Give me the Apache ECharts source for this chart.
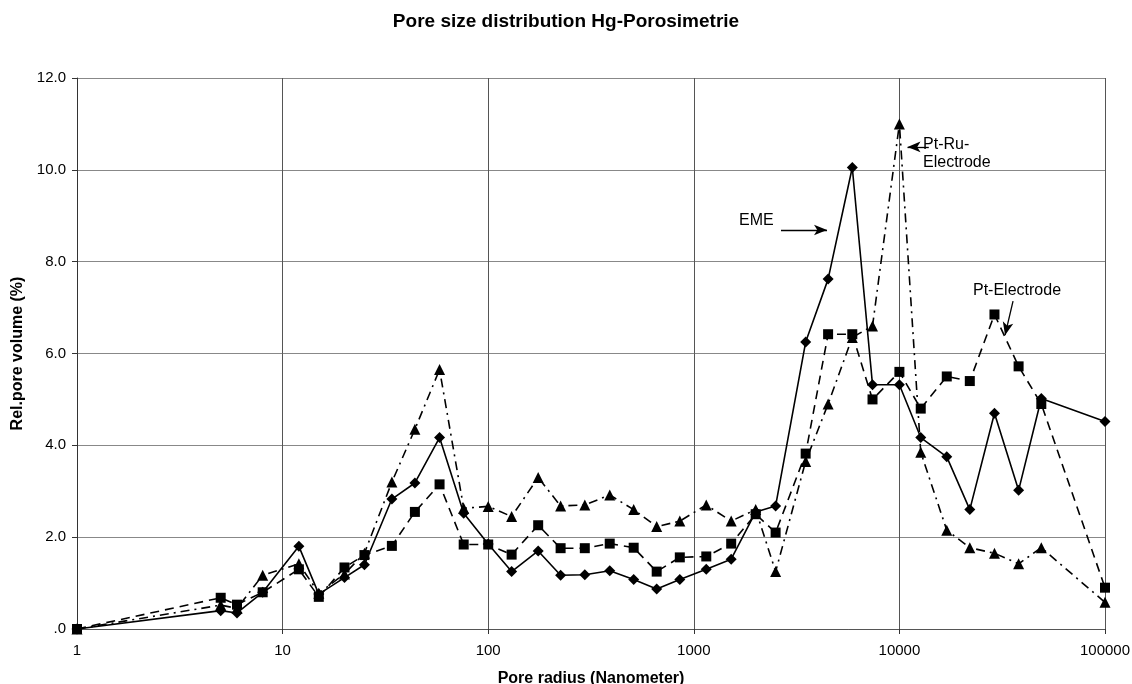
<!DOCTYPE html>
<html><head><meta charset="utf-8">
<script src="https://cdn.jsdelivr.net/npm/echarts@6/dist/echarts.min.js"></script>
<style>html,body{margin:0;padding:0;background:#fff}#c{width:1132px;height:684px}</style>
</head><body><div id="c"></div>
<script>
const radius = [1,5,6,8,12,15,20,25,34,44,58,76,100,130,175,225,295,390,510,660,855,1150,1520,2000,2500,3500,4500,5900,7400,10000,12700,17000,22000,29000,38000,49000,100000];
const eme = [0,0.40,0.35,0.80,1.80,0.76,1.12,1.40,2.83,3.18,4.17,2.52,1.85,1.25,1.70,1.17,1.18,1.27,1.08,0.87,1.08,1.30,1.52,2.55,2.68,6.25,7.62,10.05,5.32,5.32,4.17,3.75,2.60,4.70,3.02,5.02,4.52];
const ptElectrode = [0,0.68,0.53,0.80,1.30,0.70,1.34,1.61,1.81,2.55,3.15,1.84,1.84,1.62,2.26,1.76,1.76,1.86,1.77,1.25,1.56,1.58,1.86,2.50,2.10,3.82,6.42,6.42,5.00,5.60,4.80,5.50,5.40,6.85,5.72,4.90,0.90];
const ptRuElectrode = [0,0.52,0.45,1.17,1.42,0.78,1.20,1.65,3.20,4.35,5.65,2.63,2.67,2.45,3.30,2.68,2.70,2.92,2.60,2.23,2.35,2.70,2.35,2.60,1.25,3.65,4.90,6.35,6.60,11.00,3.85,2.15,1.77,1.65,1.42,1.77,0.58];
const yTicks = ['.0','2.0','4.0','6.0','8.0','10.0','12.0'];
const annotationTexts = ['EME','Pt-Ru-\nElectrode','Pt-Electrode'];

const font = 'Liberation Sans, Arial, sans-serif';
function pairs(v){ return radius.map((r,i)=>[r,v[i]]); }
const chart = echarts.init(document.getElementById('c'));
chart.setOption({
  animation:false,
  backgroundColor:'#fff',
  title:{text:'Pore size distribution Hg-Porosimetrie',left:'center',top:7,
    textStyle:{fontFamily:font,fontSize:19,fontWeight:'bold',color:'#000'}},
  grid:{left:77,right:27,top:78,bottom:55,containLabel:false,outerBoundsMode:'none'},
  xAxis:{type:'log',logBase:10,min:1,max:100000,
    name:'Pore radius (Nanometer)',nameLocation:'middle',nameGap:42,
    nameTextStyle:{fontFamily:font,fontSize:16,fontWeight:'bold',color:'#000'},
    axisLine:{lineStyle:{color:'#555',width:1}},
    axisTick:{show:true,length:5,lineStyle:{color:'#333'}},
    minorTick:{show:false},
    axisLabel:{fontFamily:font,fontSize:15,color:'#000',margin:14,
      formatter:v=>String(Math.round(v))},
    splitLine:{show:true,lineStyle:{color:'#555',width:1}}},
  yAxis:{type:'value',min:0,max:12,interval:2,
    name:'Rel.pore volume (%)',nameLocation:'middle',nameGap:50,
    nameTextStyle:{fontFamily:font,fontSize:16,fontWeight:'bold',color:'#000'},
    axisLine:{show:true,lineStyle:{color:'#333',width:1}},
    axisTick:{show:true,length:5,lineStyle:{color:'#333'}},
    axisLabel:{fontFamily:font,fontSize:15,color:'#000',margin:11,
      formatter:v=>yTicks[Math.round(v/2)]},
    splitLine:{show:true,lineStyle:{color:'#888',width:1}}},
  series:[
    {name:'EME',type:'line',data:pairs(eme),symbol:'diamond',symbolSize:11,
      lineStyle:{color:'#000',width:1.6,type:'solid'},itemStyle:{color:'#000'},
      markLine:{silent:true,symbol:['none','arrow'],symbolSize:[8,13],label:{show:false},
        lineStyle:{color:'#000',width:1.3,type:'solid'},
        data:[
          [{coord:[2655,8.69]},{coord:[4446,8.69]}],
          [{coord:[13900,10.50]},{coord:[10950,10.50]}],
          [{coord:[35700,7.14]},{coord:[32650,6.40]}]
        ]},
      markPoint:{silent:true,symbol:'circle',symbolSize:0,
        label:{show:true,position:'right',distance:0,color:'#000',fontFamily:font,fontSize:16,lineHeight:18},
        data:[
          {coord:[1660,8.90],label:{formatter:annotationTexts[0]}},
          {coord:[13030,10.36],label:{formatter:annotationTexts[1]}},
          {coord:[22800,7.38],label:{formatter:annotationTexts[2]}}
        ]}},
    {name:'Pt-Electrode',type:'line',data:pairs(ptElectrode),symbol:'rect',symbolSize:10,
      lineStyle:{color:'#000',width:1.6,type:[9,6]},itemStyle:{color:'#000'}},
    {name:'Pt-Ru-Electrode',type:'line',data:pairs(ptRuElectrode),symbol:'triangle',symbolSize:11,
      lineStyle:{color:'#000',width:1.6,type:[9,5,2,5]},itemStyle:{color:'#000'}}
  ]
});
</script></body></html>
